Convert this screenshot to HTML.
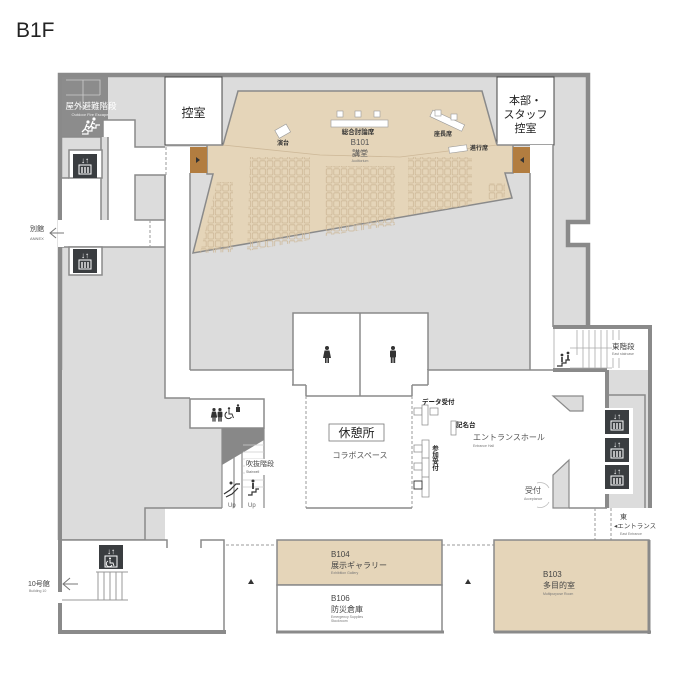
<!DOCTYPE html>
<html><head><meta charset="utf-8"><style>
html,body{margin:0;padding:0;background:#fff}
svg{display:block}
text{font-family:"Liberation Sans","Noto Sans CJK JP",sans-serif}
</style></head><body>
<svg width="690" height="690" viewBox="0 0 690 690" xmlns="http://www.w3.org/2000/svg">
<defs>
<pattern id="seat" x="0" y="0" width="7.4" height="8" patternUnits="userSpaceOnUse">
<rect x="0.8" y="0.8" width="5.6" height="6.2" rx="1" fill="none" stroke="#cdb898" stroke-width="0.8"/>
</pattern>
<g id="elev">
<rect x="0" y="0" width="24" height="24" fill="#3a3d40"/>
<text x="12" y="9" font-size="8" fill="#fff" text-anchor="middle">↓↑</text>
<rect x="6" y="11" width="12" height="9" fill="none" stroke="#fff" stroke-width="1"/>
<path d="M9 13v6M12 13v6M15 13v6" stroke="#fff" stroke-width="1.3"/>
</g>
<g id="man"><circle cx="0" cy="-8" r="2" fill="#333"/><rect x="-3" y="-5.5" width="6" height="7" rx="1" fill="#333"/><rect x="-2.2" y="1" width="1.8" height="6" fill="#333"/><rect x="0.4" y="1" width="1.8" height="6" fill="#333"/></g>
<g id="woman"><circle cx="0" cy="-8" r="2" fill="#333"/><path d="M-2.5 -5.5 H2.5 L4 2 H-4 Z" fill="#333"/><rect x="-2" y="2" width="1.6" height="5" fill="#333"/><rect x="0.4" y="2" width="1.6" height="5" fill="#333"/></g>
<g id="runner"><circle cx="2" cy="-7" r="1.6" fill="#fff"/><path d="M1 -5 L-1 0 L2 2 M-1 0 L-4 3 M0 -3 L3 -2" stroke="#fff" stroke-width="1.3" fill="none"/></g>
</defs>
<text x="16" y="37" font-size="21" fill="#222">B1F</text>

<path d="M60 75 H588 V222 H568 V245 H588 V327 H555 V370 H165 V540 H60 Z" fill="#dcdcdc"/>
<path d="M60 540 V75 H588 V222 H568 V245 H588 V327" fill="none" stroke="#8a8a8a" stroke-width="4.5"/>
<rect x="62" y="77" width="46" height="60" fill="#8c8c8c"/>
<path d="M66 80 H100 V95 M66 95 H100 M83 80 V110" stroke="#ccc" stroke-width="0.8" fill="none"/>
<text x="91" y="109" font-size="8.5" fill="#fff" text-anchor="middle">屋外避難階段</text>
<text x="90" y="116" font-size="4" fill="#eee" text-anchor="middle">Outdoor Fire Escape</text>
<path d="M82 134 H88 V131 H92 V128 H96 V125 H100" stroke="#fff" stroke-width="1.2" fill="none"/>
<g transform="translate(86,129)"><use href="#runner"/></g>
<g transform="translate(92,126)"><use href="#runner"/></g>
<rect x="103" y="120" width="32" height="27" fill="#fff"/>
<rect x="108" y="120" width="27" height="100" fill="#fff"/>
<rect x="135" y="147" width="55" height="28" fill="#fff"/>
<rect x="165" y="147" width="25" height="250" fill="#fff"/>
<rect x="62" y="178" width="40" height="42" fill="#fff"/>
<rect x="62" y="220" width="128" height="27" fill="#fff"/>
<path d="M103 120 H135 V147 H165 M62 137 H103 V120" fill="none" stroke="#8a8a8a" stroke-width="1.5"/>
<rect x="135" y="175" width="30" height="45" fill="#dcdcdc" stroke="#8a8a8a" stroke-width="1.5"/>
<rect x="101" y="137" width="7" height="83" fill="#dcdcdc"/>
<path d="M108 137 V220 M101 137 V220" stroke="#8a8a8a" stroke-width="1.5"/>
<rect x="69" y="150" width="33" height="28" fill="#fff" stroke="#8a8a8a" stroke-width="1.5"/>
<use href="#elev" x="73" y="154"/>
<path d="M62 178 H69" fill="none" stroke="#8a8a8a" stroke-width="1.5"/>
<path d="M62 247 H165" stroke="#8a8a8a" stroke-width="1.5"/>
<rect x="69" y="247" width="33" height="28" fill="#fff" stroke="#8a8a8a" stroke-width="1.5"/>
<use href="#elev" x="73" y="249"/>
<path d="M165 175 V370" stroke="#8a8a8a" stroke-width="1.5"/>
<path d="M150 220 V247 M166 147 V175" stroke="#999" stroke-width="1" stroke-dasharray="3,2"/>
<rect x="58" y="220" width="6" height="27" fill="#fff"/>
<text x="30" y="231" font-size="7" fill="#444">別館</text>
<text x="30" y="240" font-size="4" fill="#666">ANNEX</text>
<path d="M64 233 H50 M56 228 L50 233 L56 238" stroke="#777" stroke-width="1" fill="none"/>

<rect x="165" y="77" width="57" height="68" fill="#fff" stroke="#444" stroke-width="1"/>
<text x="193.5" y="117" font-size="12" text-anchor="middle" fill="#222">控室</text>
<rect x="497" y="77" width="57" height="68" fill="#fff" stroke="#444" stroke-width="1"/>
<text x="525.5" y="104" font-size="11" text-anchor="middle" fill="#222">本部・</text>
<text x="525.5" y="118" font-size="11" text-anchor="middle" fill="#222">スタッフ</text>
<text x="525.5" y="132" font-size="11" text-anchor="middle" fill="#222">控室</text>

<rect x="530" y="145" width="23" height="225" fill="#fff"/>
<path d="M530 173 V370 M553 145 V327" stroke="#8a8a8a" stroke-width="1.5"/>
<path d="M190 173 V370" stroke="#8a8a8a" stroke-width="1.5"/>

<path d="M238 91 H482 L497 145 H513 V173 H505 L512 198 L193 253 L213 174 H207 V145 H223 Z" fill="#e5d5b9" stroke="#8a8a8a" stroke-width="1.5"/>
<path d="M223 145 L320 155 L400 157 L497 145" stroke="#cdb898" stroke-width="0.8" fill="none"/>
<rect x="190" y="147" width="17" height="26" fill="#b27d40"/>
<path d="M196 157 l4 3 l-4 3z" fill="#333"/>
<rect x="513" y="147" width="17" height="26" fill="#b27d40"/>
<path d="M524 157 l-4 3 l4 3z" fill="#333"/>
<path d="M250 157 H310 V240 L247 251 Z" fill="url(#seat)"/>
<path d="M217 182 H233 V252 L200 253 Z" fill="url(#seat)"/>
<path d="M325 166 H395 V225 L325 236 Z" fill="url(#seat)"/>
<path d="M408 157 H472 V205 L408 215 Z" fill="url(#seat)"/>
<path d="M488 183 H505 V197 L488 200 Z" fill="url(#seat)"/>
<rect x="276" y="127" width="13" height="9" fill="#fff" stroke="#999" stroke-width="0.6" transform="rotate(-30 282 131)"/>
<text x="283" y="145" font-size="6" font-weight="bold" text-anchor="middle" fill="#333">演台</text>
<rect x="331" y="120" width="57" height="7" fill="#fff" stroke="#999" stroke-width="0.6"/>
<rect x="337" y="111" width="6" height="6" fill="#fff" stroke="#999" stroke-width="0.6"/>
<rect x="355" y="111" width="6" height="6" fill="#fff" stroke="#999" stroke-width="0.6"/>
<rect x="374" y="111" width="6" height="6" fill="#fff" stroke="#999" stroke-width="0.6"/>
<text x="358" y="134" font-size="6.5" font-weight="bold" text-anchor="middle" fill="#333">総合討論席</text>
<text x="360" y="145" font-size="8" text-anchor="middle" fill="#555">B101</text>
<text x="360" y="156" font-size="8" text-anchor="middle" fill="#555">講堂</text>
<text x="360" y="162" font-size="3.5" text-anchor="middle" fill="#777">Auditorium</text>
<rect x="430" y="117" width="35" height="7" fill="#fff" stroke="#999" stroke-width="0.6" transform="rotate(25 447 120)"/>
<rect x="435" y="110" width="6" height="6" fill="#fff" stroke="#999" stroke-width="0.6"/>
<rect x="451" y="114" width="6" height="6" fill="#fff" stroke="#999" stroke-width="0.6"/>
<text x="443" y="136" font-size="6" font-weight="bold" text-anchor="middle" fill="#333">座長席</text>
<rect x="449" y="146" width="18" height="6" fill="#fff" stroke="#999" stroke-width="0.6" transform="rotate(-8 458 149)"/>
<text x="470" y="150" font-size="6" font-weight="bold" fill="#333">進行席</text>

<rect x="293" y="313" width="135" height="57" fill="#fff" stroke="#8a8a8a" stroke-width="1.5"/>
<g transform="translate(327,356)"><use href="#woman"/></g>
<g transform="translate(393,356)"><use href="#man"/></g>
<rect x="165" y="370" width="388" height="140" fill="#fff"/>
<rect x="294" y="369" width="133" height="3" fill="#fff"/>
<path d="M360 313 V396" stroke="#8a8a8a" stroke-width="1.5"/>
<path d="M190 370 H293 M428 370 H553" stroke="#8a8a8a" stroke-width="1.5"/>
<path d="M293 370 V385 M306 385 V396 M428 370 V385 M412 385 V396 M292 385 H306 M428 385 H412 M306 396 H412" fill="none" stroke="#8a8a8a" stroke-width="1.5"/>
<path d="M306 396 V508 M412 396 V508" stroke="#999" stroke-width="1" stroke-dasharray="3,2"/>
<path d="M306 508 H412" stroke="#8a8a8a" stroke-width="1.5"/>
<rect x="329" y="424" width="55" height="17" fill="#fff" stroke="#777" stroke-width="0.8"/>
<text x="356.5" y="437" font-size="12" text-anchor="middle" fill="#222">休憩所</text>
<text x="360" y="458" font-size="8" text-anchor="middle" fill="#555">コラボスペース</text>

<path d="M62 370 H165 V398 H190 V428 H222 V508 H145 V540 H62 Z" fill="#dcdcdc"/>
<path d="M62 540 H145 V508 H222" fill="none" stroke="#8a8a8a" stroke-width="1.5"/>
<path d="M165 370 V398 H190" fill="none" stroke="#8a8a8a" stroke-width="1.5"/>
<rect x="190" y="399" width="74" height="29" fill="#fff" stroke="#8a8a8a" stroke-width="1.5"/>
<g transform="translate(214,416) scale(0.8)"><use href="#woman"/></g>
<g transform="translate(220,416) scale(0.8)"><use href="#man"/></g>
<circle cx="229" cy="408.5" r="1.2" fill="#333"/>
<path d="M229 410 V414 H232 L233.5 418 M227 412 a3.5 3.5 0 1 0 4.5 5" stroke="#333" stroke-width="1" fill="none"/>
<rect x="236" y="407" width="4" height="5" fill="#333"/>
<circle cx="238" cy="405.5" r="1.2" fill="#333"/>
<rect x="222" y="428" width="42" height="80" fill="#fff"/>
<path d="M222 428 H264 V440 L222 465 Z" fill="#888"/>
<path d="M222 428 V508 M264 428 V508 M234 455 V508 M242 450 V508" stroke="#8a8a8a" stroke-width="1.2"/>
<path d="M243 445 H264 M243 452 H264 M243 459 H264 M243 466 H264 M243 473 H264 M243 480 H264 M243 487 H264" stroke="#ccc" stroke-width="0.8"/>
<rect x="245" y="459" width="30" height="16" fill="#fff"/>
<text x="246" y="466" font-size="7" fill="#444">吹抜階段</text>
<text x="246" y="473" font-size="3.5" fill="#666">Stairwell</text>
<path d="M224 494 L230 490 L236 484 L240 484 M226 497 L232 494 L238 488" stroke="#333" stroke-width="1.2" fill="none"/>
<circle cx="231" cy="483" r="1.5" fill="#333"/>
<path d="M248 495 H252 V492 H256 V489 H259" stroke="#333" stroke-width="1.2" fill="none"/>
<circle cx="253" cy="481" r="1.5" fill="#333"/>
<path d="M253 483 V489" stroke="#333" stroke-width="1.8"/>
<text x="228" y="507" font-size="6" fill="#666">Up</text>
<text x="248" y="507" font-size="6" fill="#666">Up</text>

<text x="422" y="404" font-size="6.5" font-weight="bold" fill="#222">データ受付</text>
<rect x="414" y="408" width="8" height="7" fill="#fff" stroke="#888" stroke-width="0.7"/>
<rect x="422" y="405" width="6" height="20" fill="#fff" stroke="#888" stroke-width="0.7"/>
<rect x="430" y="408" width="8" height="7" fill="#fff" stroke="#888" stroke-width="0.7"/>
<rect x="451" y="421" width="5" height="14" fill="#fff" stroke="#888" stroke-width="0.7"/>
<text x="456" y="427" font-size="6.5" font-weight="bold" fill="#222">記名台</text>
<rect x="422" y="440" width="7" height="57" fill="#fff" stroke="#888" stroke-width="0.7"/>
<path d="M422 458 H429 M422 477 H429" stroke="#888" stroke-width="0.7"/>
<rect x="414" y="445" width="8" height="7" fill="#fff" stroke="#888" stroke-width="0.7"/>
<rect x="414" y="463" width="8" height="7" fill="#fff" stroke="#888" stroke-width="0.7"/>
<rect x="414" y="481" width="8" height="8" fill="#fff" stroke="#333" stroke-width="0.9"/>
<text x="434" y="445" font-size="6.5" font-weight="bold" fill="#222" writing-mode="tb">参加受付</text>
<text x="473" y="440" font-size="8" fill="#555">エントランスホール</text>
<text x="473" y="447" font-size="3.5" fill="#777">Entrance Hall</text>
<text x="525" y="493" font-size="8" fill="#555">受付</text>
<text x="524" y="500" font-size="3.5" fill="#777">Acceptance</text>
<path d="M537 483 a10 10 0 0 1 12 5 M537 507 a10 10 0 0 0 12 -5" fill="none" stroke="#bbb" stroke-width="0.8"/>
<path d="M553 396 H583 L583 411 H570 Z" fill="#dcdcdc" stroke="#8a8a8a" stroke-width="1.2"/>
<path d="M553 508 V475 L569 460 V508 Z" fill="#dcdcdc" stroke="#8a8a8a" stroke-width="1.2"/>
<path d="M569 508 H607" stroke="#8a8a8a" stroke-width="1.5"/>
<rect x="555" y="327" width="95" height="43" fill="#fff"/>
<path d="M553 327 H650 V370 M553 370 H607" fill="none" stroke="#8a8a8a" stroke-width="4"/>
<path d="M577 330 V355 M583 330 V368 M589 330 V368 M595 330 V368 M601 330 V368 M607 330 V368 M613 330 V368 M619 330 V368" stroke="#aaa" stroke-width="0.8"/>
<path d="M570 348 H612 M570 368 H612" stroke="#aaa" stroke-width="0.8"/>
<rect x="612" y="340" width="36" height="18" fill="#fff"/>
<text x="612" y="349" font-size="7.5" fill="#444">東階段</text>
<text x="612" y="355" font-size="3.5" fill="#777">East staircase</text>
<path d="M557 366 H562 V363 H566 V360 H570" stroke="#333" stroke-width="1.2" fill="none"/>
<circle cx="562" cy="355" r="1.4" fill="#333"/><circle cx="568" cy="353" r="1.4" fill="#333"/>
<path d="M562 357 V362 M568 355 V360" stroke="#333" stroke-width="1.6"/>
<rect x="607" y="370" width="43" height="138" fill="#dcdcdc"/>
<path d="M607 370 V508 M650 370 V508" stroke="#8a8a8a" stroke-width="4"/>
<path d="M609 395 H645 V508" fill="none" stroke="#8a8a8a" stroke-width="1.5"/>
<rect x="602" y="408" width="31" height="86" fill="#fff"/>
<use href="#elev" x="605" y="410"/>
<use href="#elev" x="605" y="438"/>
<use href="#elev" x="605" y="465"/>
<path d="M595 508 V540 M611 508 V540" stroke="#999" stroke-width="1" stroke-dasharray="3,2"/>
<text x="620" y="519" font-size="7" fill="#444">東</text>
<text x="614" y="528" font-size="6.5" fill="#444">◂エントランス</text>
<text x="620" y="535" font-size="3.5" fill="#777">East Entrance</text>

<rect x="62" y="540" width="162" height="92" fill="#fff"/>
<path d="M62 540 H167 V548 M201 548 V540 H224 V632 H58" fill="none" stroke="#8a8a8a" stroke-width="1.5"/>
<path d="M60 540 V592 M60 603 V632 M58 632 H226" stroke="#8a8a8a" stroke-width="4"/>
<rect x="99" y="545" width="24" height="24" fill="#3a3d40"/>
<text x="111" y="554" font-size="8" fill="#fff" text-anchor="middle">↓↑</text>
<rect x="105" y="556" width="12" height="11" fill="none" stroke="#fff"/>
<circle cx="110" cy="558.5" r="1" fill="#fff"/>
<path d="M110 560 V563 H113 L114 566 M108 561 a3 3 0 1 0 4 4" stroke="#fff" stroke-width="0.9" fill="none"/>
<path d="M96 572 H128 M98 572 V600 M104 572 V600 M110 572 V600 M116 572 V600 M122 572 V600 M62 600 H128" stroke="#999" stroke-width="1" fill="none"/>
<text x="28" y="586" font-size="7" fill="#444">10号館</text>
<text x="29" y="592" font-size="3.5" fill="#777">Building 10</text>
<path d="M78 584 H63 M70 578 L63 584 L70 590" stroke="#777" stroke-width="1" fill="none"/>
<path d="M226 545 H276 M442 545 H494" stroke="#999" stroke-width="1" stroke-dasharray="3,2"/>
<path d="M248 584 l3 -5 l3 5z" fill="#333"/>
<path d="M465 584 l3 -5 l3 5z" fill="#333"/>
<rect x="277" y="540" width="165" height="45" fill="#e5d5b9" stroke="#8a8a8a" stroke-width="1.5"/>
<rect x="277" y="585" width="165" height="47" fill="#fff" stroke="#8a8a8a" stroke-width="1.5"/>
<path d="M276 632 H444" stroke="#8a8a8a" stroke-width="3"/>
<text x="331" y="557" font-size="8" fill="#444">B104</text>
<text x="331" y="568" font-size="8" fill="#444">展示ギャラリー</text>
<text x="331" y="574" font-size="3.5" fill="#777">Exhibition Gallery</text>
<text x="331" y="601" font-size="8" fill="#444">B106</text>
<text x="331" y="612" font-size="8" fill="#444">防災倉庫</text>
<text x="331" y="618" font-size="3.5" fill="#777">Emergency Supplies</text>
<text x="331" y="622" font-size="3.5" fill="#777">Stockroom</text>
<rect x="494" y="540" width="155" height="92" fill="#e5d5b9" stroke="#8a8a8a" stroke-width="1.5"/>
<path d="M494 632 H651 M649 540 V634" stroke="#8a8a8a" stroke-width="3"/>
<text x="543" y="577" font-size="8" fill="#444">B103</text>
<text x="543" y="588" font-size="8" fill="#444">多目的室</text>
<text x="543" y="595" font-size="3.5" fill="#777">Multipurpose Room</text>
</svg>
</body></html>
